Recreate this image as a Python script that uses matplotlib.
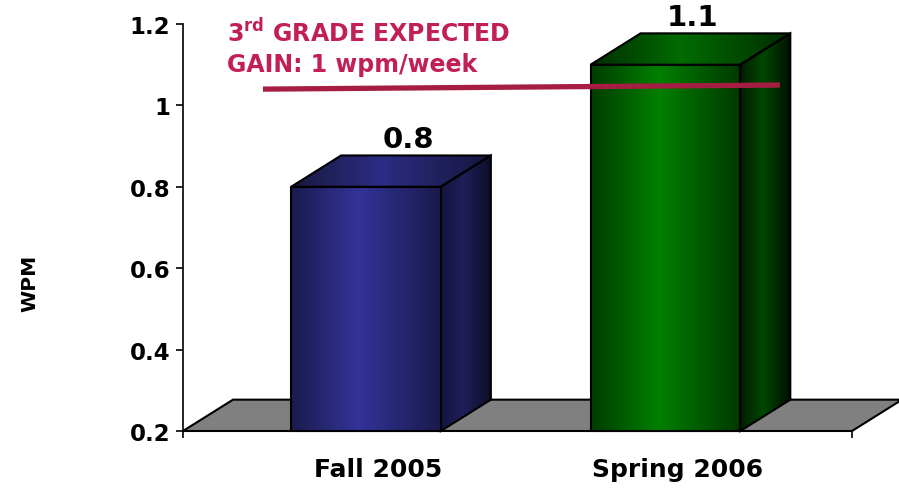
import numpy as np
import matplotlib.pyplot as plt
import matplotlib.colors as mcolors
from matplotlib.patches import Polygon

# Daten
categories = ["Fall 2005", "Spring 2006"]
wpm_values = [0.8, 1.1]
value_labels = ["0.8", "1.1"]
expected_line_x = [-0.344, 1.382]
expected_line_y = [1.04, 1.05]
expected_text = [r"3$^{\mathbf{rd}}$ GRADE EXPECTED", "GAIN: 1 wpm/week"]
yticks = [0.2, 0.4, 0.6, 0.8, 1, 1.2]
ytick_labels = ["0.2", "0.4", "0.6", "0.8", "1", "1.2"]

# Farben (Verlauf links -> mitte -> rechts)
front_cols = [["#1b1b4e", "#333399", "#1a1a4c"], ["#003c00", "#008000", "#003800"]]
side_cols = [["#141440", "#1f1f5a", "#0c0c24"], ["#001c00", "#004800", "#000e00"]]
top_cols = [["#18183e", "#2c2c84", "#16163e"], ["#002e00", "#006c00", "#002c00"]]
floor_col = "#808080"
text_red = "#C21F55"
line_red = "#A51D42"

plt.rcParams["font.family"] = ["DejaVu Sans"]
plt.rcParams["font.weight"] = "bold"
plt.rcParams["mathtext.fontset"] = "dejavusans"

fig = plt.figure(figsize=(8.99, 4.89), dpi=100)
ax = fig.add_axes([183 / 899, 57 / 489, 669 / 899, 407 / 489])

x = np.arange(len(categories))
bar_w = 0.5
dx, dy = 0.167, 0.077
ymin, ymax = 0.2, 1.2
xmin, xmax = -0.611, 1.623


def gradient_fill(verts, stops, zorder):
    poly = Polygon(verts, closed=True, facecolor="none", edgecolor="black",
                   linewidth=1.5, zorder=zorder + 0.1, clip_on=False)
    ax.add_patch(poly)
    xs = [v[0] for v in verts]
    ys = [v[1] for v in verts]
    cmap = mcolors.LinearSegmentedColormap.from_list("g", list(zip([0, 0.45, 1], stops)))
    grad = np.linspace(0, 1, 256).reshape(1, -1)
    im = ax.imshow(grad, cmap=cmap, aspect="auto", origin="lower",
                   extent=[min(xs), max(xs), min(ys), max(ys)], zorder=zorder,
                   interpolation="bilinear")
    im.set_clip_path(poly)
    im.set_clip_on(True)


# Boden
floor = Polygon([(xmin, ymin), (xmax, ymin), (xmax + dx, ymin + dy), (xmin + dx, ymin + dy)],
                closed=True, facecolor=floor_col, edgecolor="black", linewidth=1.5,
                zorder=1, clip_on=False)
ax.add_patch(floor)

# Balken (3D)
label_shift = [0.14, 0.09]
for i, (xc, val) in enumerate(zip(x, wpm_values)):
    l, r = xc - bar_w / 2, xc + bar_w / 2
    gradient_fill([(l, ymin), (r, ymin), (r, val), (l, val)], front_cols[i], 3)
    gradient_fill([(r, ymin), (r + dx, ymin + dy), (r + dx, val + dy), (r, val)], side_cols[i], 2)
    gradient_fill([(l, val), (r, val), (r + dx, val + dy), (l + dx, val + dy)], top_cols[i], 2)
    ax.annotate(value_labels[i], (xc + label_shift[i], val + dy), xytext=(0, 6),
                textcoords="offset points", ha="center", va="baseline",
                fontsize=21, fontweight="bold", color="black", zorder=6)

# Erwartungslinie
ax.plot(expected_line_x, expected_line_y, color=line_red, linewidth=3.8,
        solid_capstyle="butt", zorder=5)
ax.text(-0.464, 1.158, expected_text[0], color=text_red, fontsize=17,
        fontweight="bold", va="baseline", ha="left", zorder=6)
ax.text(-0.464, 1.085, expected_text[1], color=text_red, fontsize=17,
        fontweight="bold", va="baseline", ha="left", zorder=6)

ax.set_xlim(xmin, xmax)
ax.set_ylim(ymin, ymax)

for side in ["top", "right"]:
    ax.spines[side].set_visible(False)
for side in ["left", "bottom"]:
    ax.spines[side].set_linewidth(1.2)
    ax.spines[side].set_zorder(4)

ax.set_yticks(yticks)
ax.set_yticklabels(ytick_labels, fontsize=16.5, fontweight="bold")
ax.tick_params(axis="y", length=5, width=1.2, pad=4)

ax.set_xticks(x + 0.04)
ax.set_xticklabels(categories, fontsize=18, fontweight="bold")
ax.tick_params(axis="x", which="major", length=0, pad=19)
ax.set_xticks([xmin, xmax], minor=True)
ax.tick_params(axis="x", which="minor", length=5, width=1.2)

fig.text(30 / 899, 1 - 283 / 489, "WPM", rotation=90, ha="center", va="center",
         fontsize=14.5, fontweight="bold")

fig.savefig("out.png", dpi=100)
